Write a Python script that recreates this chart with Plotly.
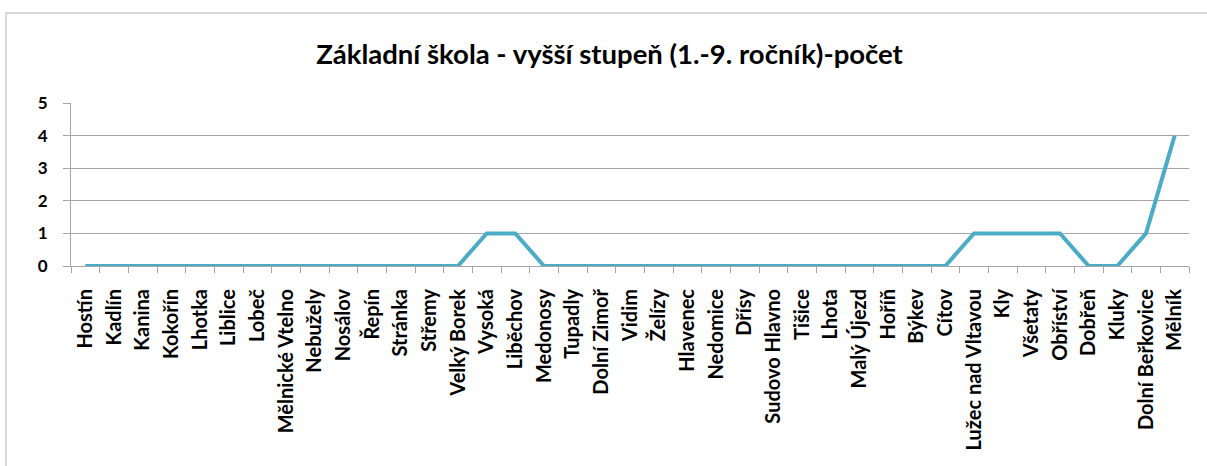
import plotly.graph_objects as go

# Obce v pořadí osy x a počet základních škol (vyšší stupeň)
obce = [
    "Hostín", "Kadlín", "Kanina", "Kokořín", "Lhotka", "Liblice", "Lobeč",
    "Mělnické Vtelno", "Nebužely", "Nosálov", "Řepín", "Stránka", "Střemy",
    "Velký Borek", "Vysoká", "Liběchov", "Medonosy", "Tupadly", "Dolní Zimoř",
    "Vidim", "Želízy", "Hlavenec", "Nedomice", "Dřísy", "Sudovo Hlavno",
    "Tišice", "Lhota", "Malý Újezd", "Hoříň", "Býkev", "Cítov",
    "Lužec nad Vltavou", "Kly", "Všetaty", "Obříství", "Dobřeň", "Kluky",
    "Dolní Beřkovice", "Mělník",
]
pocet = [
    0, 0, 0, 0, 0, 0, 0,
    0, 0, 0, 0, 0, 0,
    0, 1, 1, 0, 0, 0,
    0, 0, 0, 0, 0, 0,
    0, 0, 0, 0, 0, 0,
    1, 1, 1, 1, 0, 0,
    1, 4,
]
y_ticks = [0, 1, 2, 3, 4, 5]

FONT = "Lato"
GRID = "#A6A6A6"

fig = go.Figure()
fig.add_trace(go.Scatter(
    x=obce, y=pocet, mode="lines",
    line=dict(color="#4BACC6", width=4),
    showlegend=False,
))

# plot area in pixels: x 71..1189, y 103..266
L, R, T, B = 71, 18, 103, 200
W, H = 1207, 466
pw, ph = W - L - R, H - T - B

def px_x(p):
    return (p - L) / pw

def px_y(p):
    return (H - B - p) / ph

fig.update_layout(
    width=W, height=H,
    margin=dict(l=L, r=R, t=T, b=B),
    paper_bgcolor="white", plot_bgcolor="white",
    title=dict(
        text="Základní škola - vyšší stupeň (1.-9. ročník)-počet",
        x=0.505, xanchor="center", y=1 - 54 / H, yanchor="middle",
        font=dict(family=FONT, size=27.5, color="#000000", weight="bold"),
    ),
    xaxis=dict(
        type="category", tickangle=-90,
        tickfont=dict(family=FONT, size=20, color="#000000", weight="bold"),
        showgrid=False, showline=True, linecolor=GRID, linewidth=1,
        ticks="outside", tickson="boundaries", ticklen=6, tickcolor=GRID,
        ticklabelstandoff=14,
        range=[-0.5, len(obce) - 0.5],
    ),
    yaxis=dict(
        range=[0, 5], tickvals=y_ticks,
        tickfont=dict(family=FONT, size=17, color="#000000", weight="bold"),
        showgrid=True, gridcolor=GRID, gridwidth=1,
        showline=True, linecolor=GRID, linewidth=1,
        ticks="outside", ticklen=7, tickcolor=GRID,
        ticklabelstandoff=12,
        zeroline=False,
    ),
    shapes=[
        # chart frame
        dict(type="rect", xref="paper", yref="paper",
             x0=px_x(6), x1=px_x(1215), y0=px_y(475), y1=px_y(13),
             line=dict(color="#D9D9D9", width=2), fillcolor="rgba(0,0,0,0)",
             layer="below"),
    ],
)

fig.write_html("out.html")
